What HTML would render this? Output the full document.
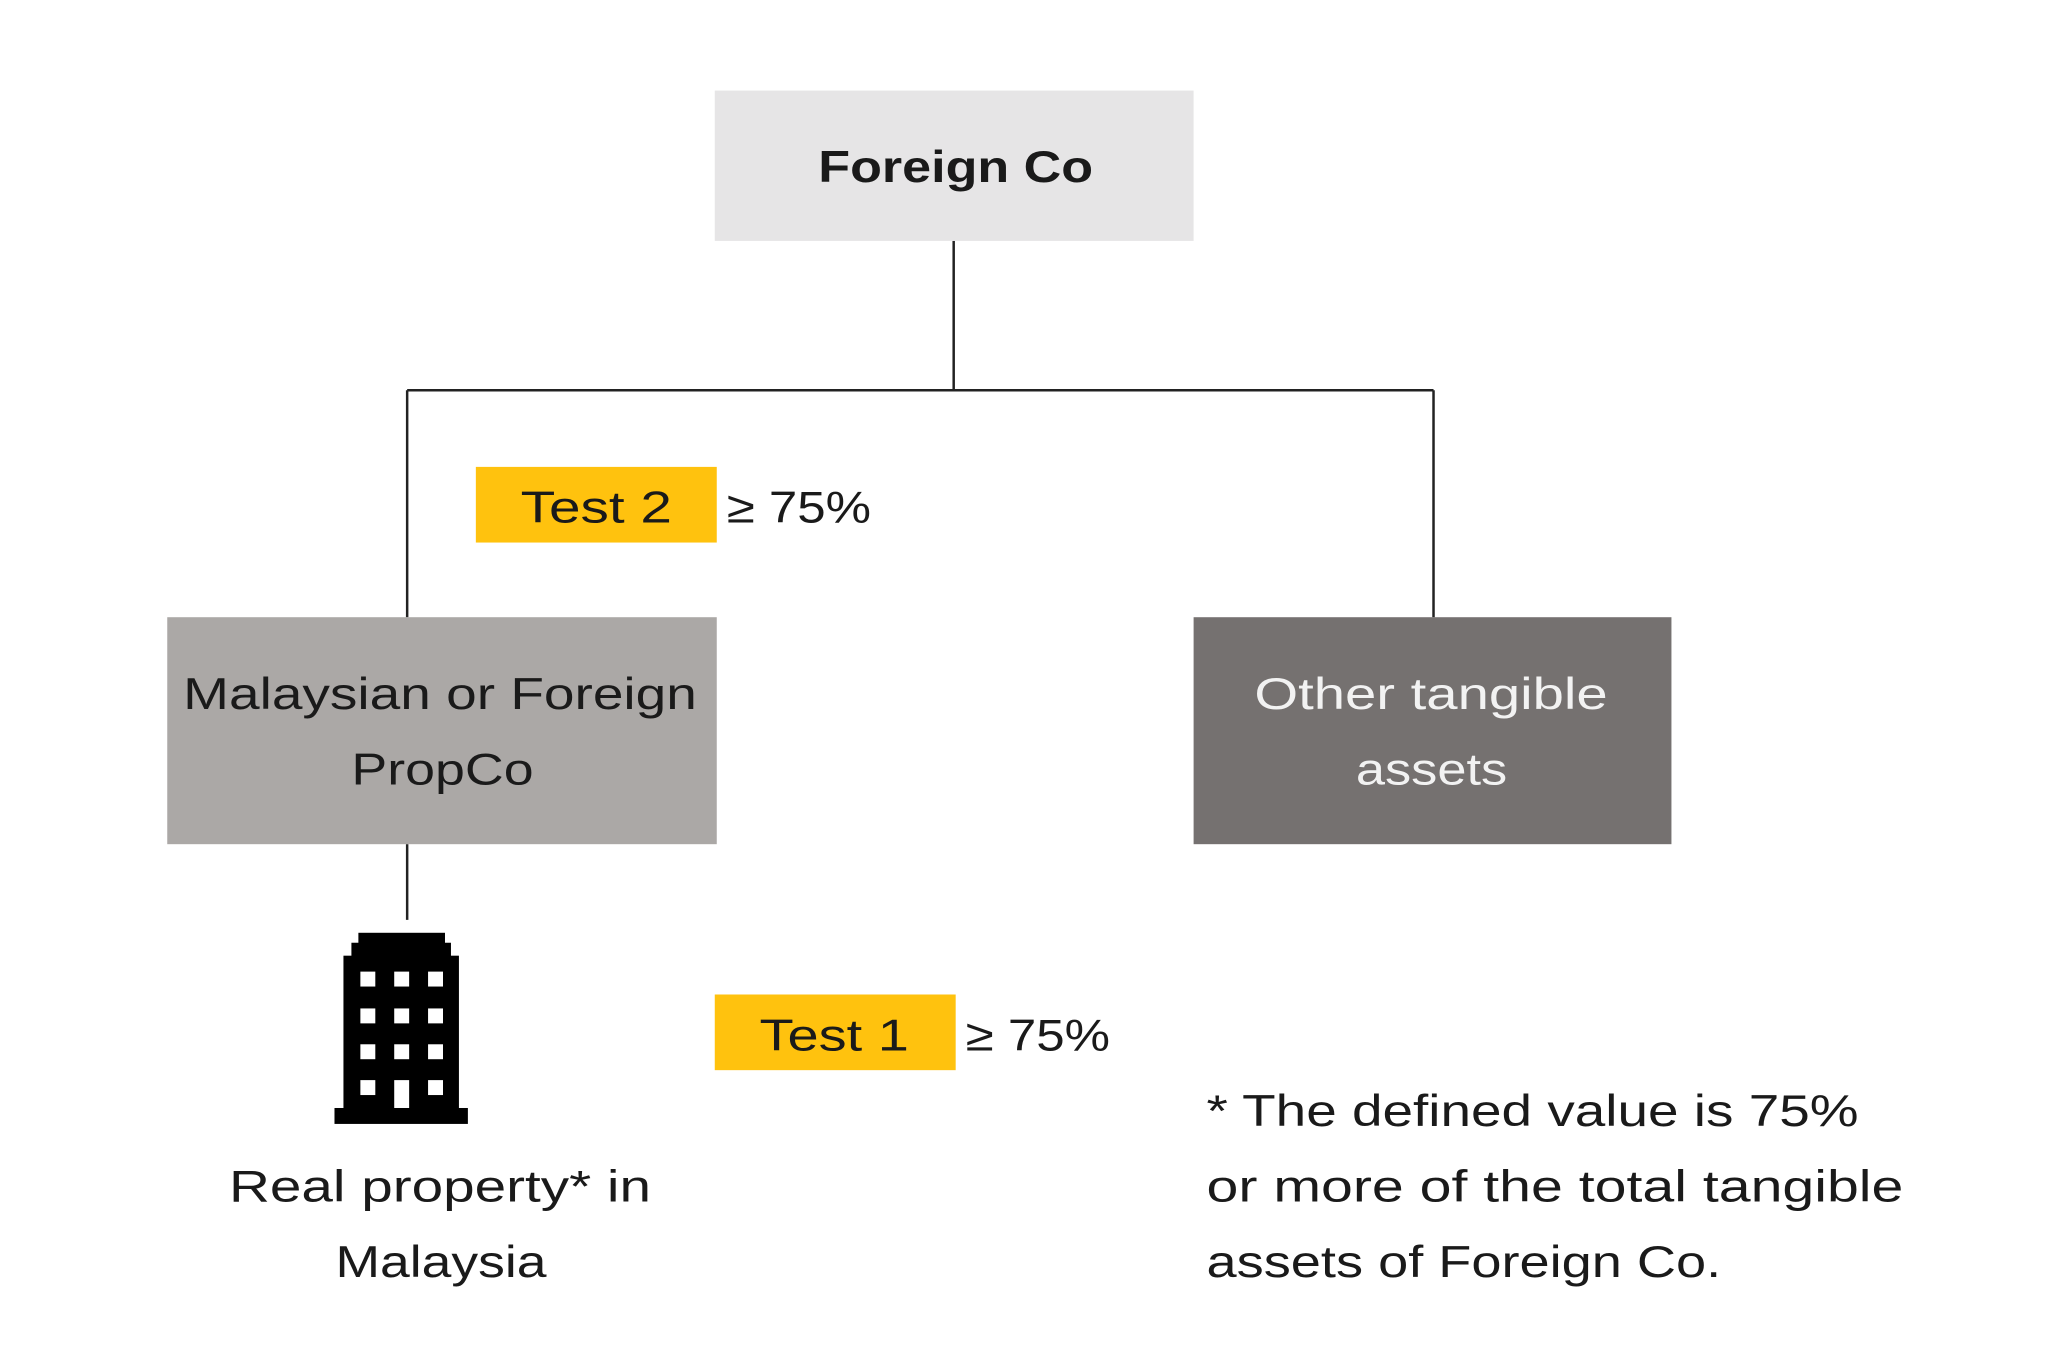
<!DOCTYPE html>
<html><head><meta charset="utf-8"><style>
html,body{margin:0;padding:0;background:#fff;}
svg{display:block;}
text{font-family:"Liberation Sans",sans-serif;font-size:45px;}
</style></head><body>
<svg width="2048" height="1365" viewBox="0 0 2048 1365" xmlns="http://www.w3.org/2000/svg">
<rect x="0" y="0" width="2048" height="1365" fill="#fff"/>
<g transform="scale(0.9955)">
<g stroke="#222" stroke-width="2.5" fill="none">
<line x1="958" y1="242" x2="958" y2="392"/>
<line x1="409" y1="392" x2="1440" y2="392"/>
<line x1="409" y1="392" x2="409" y2="620"/>
<line x1="1440" y1="392" x2="1440" y2="620"/>
<line x1="409" y1="848" x2="409" y2="924"/>
</g>
<rect x="718" y="91" width="481" height="151" fill="#e6e5e6"/>
<rect x="168" y="620" width="552" height="228" fill="#aba8a6"/>
<rect x="1199" y="620" width="480" height="228" fill="#757170"/>
<rect x="478" y="469" width="242" height="76" fill="#ffc20e"/>
<rect x="718" y="999" width="242" height="76" fill="#ffc20e"/>
<g fill="#000">
<rect x="360" y="937" width="87" height="12"/>
<rect x="353" y="947" width="100" height="15"/>
<rect x="345" y="960" width="116" height="160"/>
<rect x="336" y="1113" width="134" height="16"/>
</g>
<g fill="#fff">
<rect x="362" y="976" width="15" height="15"/><rect x="396" y="976" width="15" height="15"/><rect x="430" y="976" width="15" height="15"/>
<rect x="362" y="1013" width="15" height="15"/><rect x="396" y="1013" width="15" height="15"/><rect x="430" y="1013" width="15" height="15"/>
<rect x="362" y="1049" width="15" height="15"/><rect x="396" y="1049" width="15" height="15"/><rect x="430" y="1049" width="15" height="15"/>
<rect x="362" y="1085" width="15" height="15"/><rect x="396" y="1085" width="15" height="28"/><rect x="430" y="1085" width="15" height="15"/>
</g>
<text x="822" y="183" textLength="276" lengthAdjust="spacingAndGlyphs" font-weight="bold" fill="#1a1a1a">Foreign Co</text>
<text x="523" y="525" textLength="152" lengthAdjust="spacingAndGlyphs" fill="#1a1a1a">Test 2</text>
<text x="730" y="525" textLength="145" lengthAdjust="spacingAndGlyphs" fill="#1a1a1a">≥ 75%</text>
<text x="184" y="712" textLength="516" lengthAdjust="spacingAndGlyphs" fill="#1a1a1a">Malaysian or Foreign</text>
<text x="353" y="788" textLength="183" lengthAdjust="spacingAndGlyphs" fill="#1a1a1a">PropCo</text>
<text x="1260" y="712" textLength="355" lengthAdjust="spacingAndGlyphs" fill="#f2f2f2">Other tangible</text>
<text x="1362" y="788" textLength="152" lengthAdjust="spacingAndGlyphs" fill="#f2f2f2">assets</text>
<text x="763" y="1055" textLength="150" lengthAdjust="spacingAndGlyphs" fill="#1a1a1a">Test 1</text>
<text x="970" y="1055" textLength="145" lengthAdjust="spacingAndGlyphs" fill="#1a1a1a">≥ 75%</text>
<text x="230" y="1207" textLength="424" lengthAdjust="spacingAndGlyphs" fill="#1a1a1a">Real property* in</text>
<text x="337" y="1283" textLength="212" lengthAdjust="spacingAndGlyphs" fill="#1a1a1a">Malaysia</text>
<text x="1212" y="1131" textLength="655" lengthAdjust="spacingAndGlyphs" fill="#1a1a1a">* The defined value is 75%</text>
<text x="1212" y="1207" textLength="700" lengthAdjust="spacingAndGlyphs" fill="#1a1a1a">or more of the total tangible</text>
<text x="1212" y="1283" textLength="517" lengthAdjust="spacingAndGlyphs" fill="#1a1a1a">assets of Foreign Co.</text>
</g>
</svg>
</body></html>
